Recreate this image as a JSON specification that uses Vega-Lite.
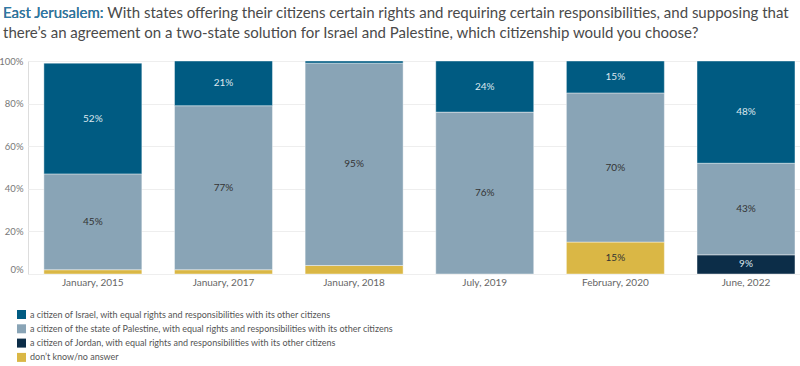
{
  "$schema": "https://vega.github.io/schema/vega-lite/v6.json",
  "width": 772,
  "height": 213,
  "autosize": {"type": "none"},
  "padding": {"left": 28, "top": 61, "right": 0, "bottom": 92},
  "background": "white",
  "title": {
    "text": ["East Jerusalem: With states offering their citizens certain rights and requiring certain responsibilities, and supposing that", "there’s an agreement on a two-state solution for Israel and Palestine, which citizenship would you choose?"],
    "subtitle": "East Jerusalem:",
    "anchor": "start",
    "frame": "group",
    "dx": -25,
    "font": "Lato",
    "fontSize": 15,
    "fontWeight": "normal",
    "color": "#4a4a4a",
    "lineHeight": 20,
    "subtitleFont": "Lato",
    "subtitleFontSize": 15,
    "subtitleColor": "#2b7bab",
    "subtitleLineHeight": 20,
    "subtitlePadding": -35,
    "offset": 15
  },
  "data": {
    "values": [
      {"date": "January, 2015", "answer": "DK", "value": 2},
      {"date": "January, 2015", "answer": "Palestine", "value": 45},
      {"date": "January, 2015", "answer": "Israel", "value": 52},
      {"date": "January, 2017", "answer": "DK", "value": 2},
      {"date": "January, 2017", "answer": "Palestine", "value": 77},
      {"date": "January, 2017", "answer": "Israel", "value": 21},
      {"date": "January, 2018", "answer": "DK", "value": 4},
      {"date": "January, 2018", "answer": "Palestine", "value": 95},
      {"date": "January, 2018", "answer": "Israel", "value": 1},
      {"date": "July, 2019", "answer": "Palestine", "value": 76},
      {"date": "July, 2019", "answer": "Israel", "value": 24},
      {"date": "February, 2020", "answer": "DK", "value": 15},
      {"date": "February, 2020", "answer": "Palestine", "value": 70},
      {"date": "February, 2020", "answer": "Israel", "value": 15},
      {"date": "June, 2022", "answer": "Jordan", "value": 9},
      {"date": "June, 2022", "answer": "Palestine", "value": 43},
      {"date": "June, 2022", "answer": "Israel", "value": 48}
    ]
  },
  "transform": [
    {"calculate": "indexof(['DK','Jordan','Palestine','Israel'], datum.answer)", "as": "ord"},
    {"stack": "value", "groupby": ["date"], "sort": [{"field": "ord", "order": "ascending"}], "as": ["y0", "y1"]},
    {"calculate": "(datum.y0 + datum.y1) / 2", "as": "ymid"},
    {"calculate": "datum.value + '%'", "as": "lbl"}
  ],
  "encoding": {
    "x": {
      "field": "date",
      "type": "nominal",
      "sort": null,
      "scale": {"paddingInner": 0.25, "paddingOuter": 0.08, "align": 0.76},
      "axis": {
        "title": null,
        "labelAngle": 0,
        "ticks": false,
        "domain": false,
        "labelPadding": 3,
        "labelColor": "#666666",
        "labelFont": "Lato",
        "labelFontSize": 10
      }
    }
  },
  "layer": [
    {
      "mark": {"type": "bar", "stroke": "white", "strokeWidth": 0.6, "strokeOpacity": 0.7},
      "encoding": {
        "y": {
          "field": "y0",
          "type": "quantitative",
          "scale": {"domain": [0, 100], "nice": false},
          "axis": {
            "title": null,
            "values": [0, 20, 40, 60, 80, 100],
            "labelExpr": "datum.value + '%'",
            "domain": false,
            "ticks": false,
            "labelPadding": 5,
            "labelColor": "#777777",
            "labelFont": "Lato",
            "labelFontSize": 9.5,
            "gridColor": "#eeeeee",
            "labelBaseline": {"condition": {"test": "datum.value === 0", "value": "bottom"}, "value": "middle"}
          }
        },
        "y2": {"field": "y1"},
        "color": {
          "field": "answer",
          "type": "nominal",
          "scale": {
            "domain": ["Israel", "Palestine", "Jordan", "DK"],
            "range": ["#005b82", "#89a4b6", "#0c2d48", "#dab745"]
          },
          "legend": {
            "title": null,
            "orient": "none",
            "legendX": -11,
            "legendY": 249,
            "direction": "vertical",
            "padding": 0,
            "symbolType": "square",
            "symbolSize": 81,
            "symbolStrokeWidth": 0,
            "symbolOpacity": 1,
            "labelFont": "Lato",
            "labelFontSize": 9,
            "labelColor": "#555555",
            "labelOffset": 4,
            "rowPadding": 4.3,
            "labelLimit": 600,
            "labelExpr": "datum.value === 'Israel' ? 'a citizen of Israel, with equal rights and responsibilities with its other citizens' : datum.value === 'Palestine' ? 'a citizen of the state of Palestine, with equal rights and responsibilities with its other citizens' : datum.value === 'Jordan' ? 'a citizen of Jordan, with equal rights and responsibilities with its other citizens' : 'don\u2019t know/no answer'"
          }
        }
      }
    },
    {
      "transform": [{"filter": "datum.value >= 5"}],
      "mark": {"type": "text", "font": "Lato", "fontSize": 10},
      "encoding": {
        "y": {"field": "ymid", "type": "quantitative"},
        "text": {"field": "lbl"},
        "fill": {
          "condition": {"test": "datum.answer === 'Israel' || datum.answer === 'Jordan'", "value": "#dde7ee"},
          "value": "#333333"
        }
      }
    }
  ]
}
